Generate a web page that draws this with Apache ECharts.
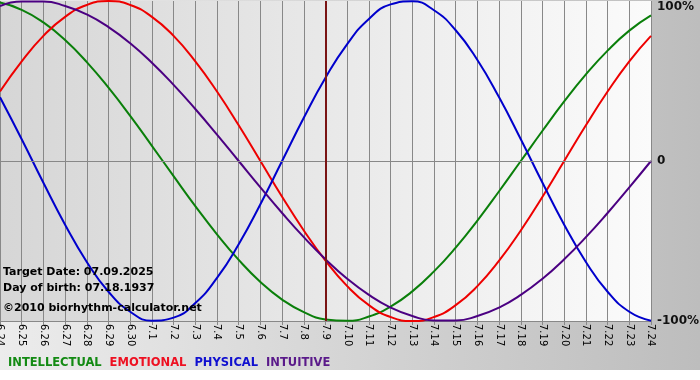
<!DOCTYPE html>
<html>
<head>
<meta charset="utf-8">
<script src="https://cdn.jsdelivr.net/npm/echarts/dist/echarts.min.js"></script>
<style>
html,body{margin:0;padding:0;background:#fff;}
#chart{width:700px;height:380px;}
</style>
</head>
<body>
<div id="chart"></div>
<script>
// Day labels (month.day)
var CATEGORIES = ['6.24','6.25','6.26','6.27','6.28','6.29','6.30',
  '7.1','7.2','7.3','7.4','7.5','7.6','7.7','7.8','7.9','7.10','7.11','7.12',
  '7.13','7.14','7.15','7.16','7.17','7.18','7.19','7.20','7.21','7.22','7.23','7.24'];
var TARGET_DAY = '7.9';

// Cycle values in percent, one per day
var INTELLECTUAL = [99.0,94.5,86.6,75.6,61.8,45.8,28.2,9.5,-9.5,-28.2,-45.8,-61.8,-75.6,-86.6,-94.5,-99.0,-99.9,-97.2,-91.0,-81.5,-69.0,-54.1,-37.2,-18.9,0,18.9,37.2,54.1,69.0,81.5,91.0];
var EMOTIONAL = [43.4,62.3,78.2,90.1,97.5,100,97.5,90.1,78.2,62.3,43.4,22.3,0,-22.3,-43.4,-62.3,-78.2,-90.1,-97.5,-100,-97.5,-90.1,-78.2,-62.3,-43.4,-22.3,0,22.3,43.4,62.3,78.2];
var PHYSICAL = [39.8,13.6,-13.6,-39.8,-63.1,-81.7,-94.2,-99.8,-97.9,-88.8,-73.1,-52.0,-27.0,0,27.0,52.0,73.1,88.8,97.9,99.8,94.2,81.7,63.1,39.8,13.6,-13.6,-39.8,-63.1,-81.7,-94.2,-99.8];
var INTUITIVE = [96.9,99.7,99.7,96.9,91.6,83.7,73.6,61.4,47.6,32.5,16.5,0,-16.5,-32.5,-47.6,-61.4,-73.6,-83.7,-91.6,-96.9,-99.7,-99.7,-96.9,-91.6,-83.7,-73.6,-61.4,-47.6,-32.5,-16.5,0];

var SERIES_NAMES = ['INTELLECTUAL','EMOTIONAL','PHYSICAL','INTUITIVE'];
var Y_TICK_LABELS = {'100':'100%','0':'0','-100':'-100%'};
var INFO_LINES = ['Target Date: 07.09.2025','Day of birth: 07.18.1937','\u00a92010 biorhythm-calculator.net'];

var LINE_COLORS = ['#0a7f0a','#ee0000','#0000cc','#4b0082'];
var LEGEND_COLORS = ['#138a13','#ee1122','#1010d0','#5a1a8a'];
var FONT = '"DejaVu Sans", Verdana, sans-serif';

var chart = echarts.init(document.getElementById('chart'), null, {renderer:'canvas'});

var values = [INTELLECTUAL, EMOTIONAL, PHYSICAL, INTUITIVE];
var series = values.map(function(v, i){
  return {
    name: SERIES_NAMES[i], type:'line', data:v, smooth:true, symbol:'none', z:3,
    lineStyle:{color:LINE_COLORS[i], width:2}, itemStyle:{color:LINE_COLORS[i]}
  };
});
series.push({
  name:'guides', type:'line', data:[], z:1, silent:true,
  markLine:{
    symbol:'none', silent:true, label:{show:false},
    data:[
      {yAxis:0, lineStyle:{color:'#888888', width:1, type:'solid'}},
      {xAxis:TARGET_DAY, lineStyle:{color:'#7a1414', width:2, type:'solid'}}
    ]
  }
});

var option = {
  animation:false,
  backgroundColor:'#ffffff',
  graphic:[
    {type:'rect', z:-10, left:0, top:0, shape:{width:700, height:370},
     style:{fill:{type:'linear',x:0,y:0,x2:1,y2:0,colorStops:[{offset:0,color:'#ececec'},{offset:1,color:'#bdbdbd'}]}}},
    {type:'text', z:10, left:3, top:267, style:{text:INFO_LINES[0], font:'bold 11px '+FONT, fill:'#000'}},
    {type:'text', z:10, left:3, top:283, style:{text:INFO_LINES[1], font:'bold 11px '+FONT, fill:'#000'}},
    {type:'text', z:10, left:3, top:303, style:{text:INFO_LINES[2], font:'bold 11px '+FONT, fill:'#000'}}
  ],
  legend:{
    left:3, top:357, padding:0, icon:'none', itemWidth:0, itemHeight:10, itemGap:3,
    selectedMode:false,
    textStyle:{fontFamily:FONT, fontWeight:'bold', fontSize:11.5},
    data:SERIES_NAMES.map(function(n,i){return {name:n, textStyle:{color:LEGEND_COLORS[i]}};})
  },
  grid:{
    left:0, right:49, top:1, bottom:59, show:true, borderWidth:0,
    containLabel:false, outerBoundsMode:'none',
    backgroundColor:{type:'linear',x:0,y:0,x2:1,y2:0,colorStops:[{offset:0,color:'#d6d6d6'},{offset:1,color:'#fbfbfb'}]}
  },
  xAxis:{
    type:'category', data:CATEGORIES, boundaryGap:false,
    axisLine:{onZero:false, lineStyle:{color:'#888888', width:1}},
    axisTick:{show:true, length:4, alignWithLabel:true, lineStyle:{color:'#888888'}},
    splitLine:{show:true, lineStyle:{color:'#888888', width:1}},
    axisLabel:{rotate:-90, interval:0, margin:3, fontFamily:FONT, fontSize:10, color:'#000'}
  },
  yAxis:{
    type:'value', position:'right', min:-100, max:100, interval:100,
    axisLine:{show:false}, axisTick:{show:false}, splitLine:{show:false},
    axisLabel:{
      margin:6, fontFamily:FONT, fontWeight:'bold', fontSize:12, color:'#111',
      formatter:function(v){
        var s = Y_TICK_LABELS[String(v)];
        return v === 100 ? '{t|' + s + '}' : s;
      },
      rich:{t:{padding:[12,0,0,0], fontFamily:FONT, fontWeight:'bold', fontSize:12, color:'#111'}}
    }
  },
  series:series
};
chart.setOption(option);
</script>
</body>
</html>
